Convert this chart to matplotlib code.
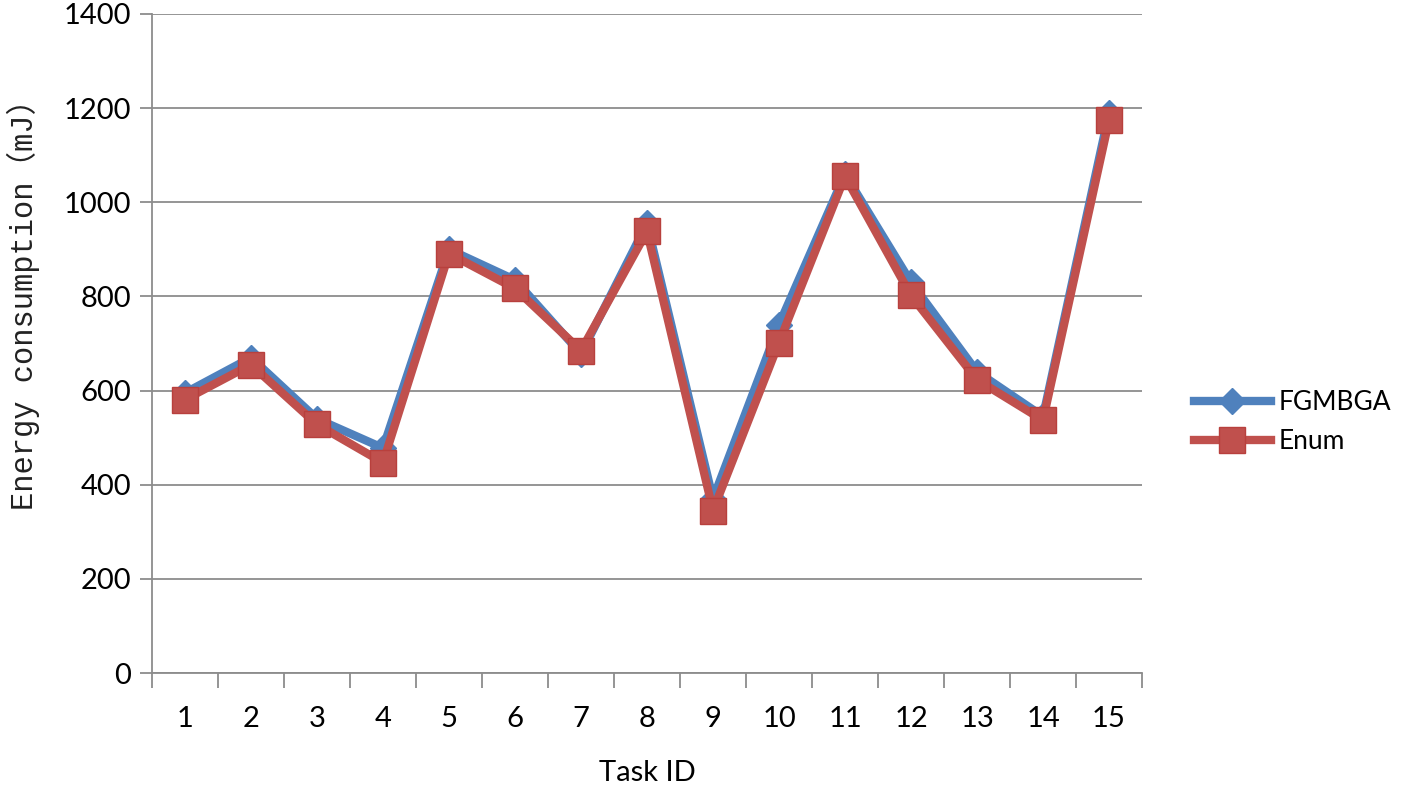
import numpy as np
import matplotlib.pyplot as plt
from matplotlib.ticker import FixedLocator, NullFormatter

# values
task_ids = [str(i) for i in range(1, 16)]
fgmbga = [595, 670, 540, 478, 900, 835, 678, 955, 370, 740, 1060, 830, 640, 545, 1190]
enum = [581, 655, 528, 447, 891, 817, 685, 938, 345, 702, 1055, 802, 623, 537, 1174]

blue = "#4F81BD"
red = "#C0504D"
grid_c = "#8C8C8C"
tick_font = "Lato"

fig = plt.figure(figsize=(14.18, 7.91), dpi=100)
ax = fig.add_axes([152/1418, 1-673/791, (1142-152)/1418, (673-14)/791])

x = np.arange(1, len(task_ids) + 1)
ax.plot(x, fgmbga, color=blue, lw=6, marker="D", ms=13, mfc=blue, mec=blue,
        label="FGMBGA", solid_joinstyle="miter", zorder=3)
ax.plot(x, enum, color=red, lw=6, marker="s", ms=19, mfc=red, mec="#B8403D",
        mew=1, label="Enum", solid_joinstyle="miter", zorder=4)

ax.set_xlim(0.5, len(task_ids) + 0.5)
ax.set_ylim(0, 1400)
ax.set_yticks(np.arange(0, 1401, 200))
ax.yaxis.grid(True, color=grid_c, lw=1.3)
ax.set_axisbelow(True)

ax.set_xticks(x)
ax.set_xticklabels(task_ids)
ax.xaxis.set_minor_locator(FixedLocator(np.arange(0.5, len(task_ids) + 1, 1)))
ax.xaxis.set_minor_formatter(NullFormatter())
ax.tick_params(axis="x", which="major", length=0, pad=24, labelsize=21)
ax.tick_params(axis="x", which="minor", length=11, width=1.3, color=grid_c)
ax.tick_params(axis="y", length=9, width=1.3, color=grid_c, pad=6, labelsize=21)
for lab in ax.get_xticklabels() + ax.get_yticklabels():
    lab.set_family(tick_font)

for s in ["top", "right"]:
    ax.spines[s].set_visible(False)
for s in ["left", "bottom"]:
    ax.spines[s].set_color(grid_c)
    ax.spines[s].set_linewidth(1.3)

ax.set_xlabel("Task ID", family=tick_font, fontsize=21, labelpad=20)
ax.set_ylabel("Energy consumption（mJ）",
              family=["Liberation Mono", "Noto Sans CJK SC"], fontsize=22,
              color="#222222")
ax.yaxis.set_label_coords(-0.113, 0.57)

leg = ax.legend(loc="center left", bbox_to_anchor=(1194/1418, 1-422/791),
                bbox_transform=fig.transFigure, frameon=False,
                prop={"family": tick_font, "size": 19},
                handlelength=2.9, handletextpad=0.3, labelspacing=0.55,
                borderaxespad=0, borderpad=0)

fig.savefig("out.png", dpi=100)
